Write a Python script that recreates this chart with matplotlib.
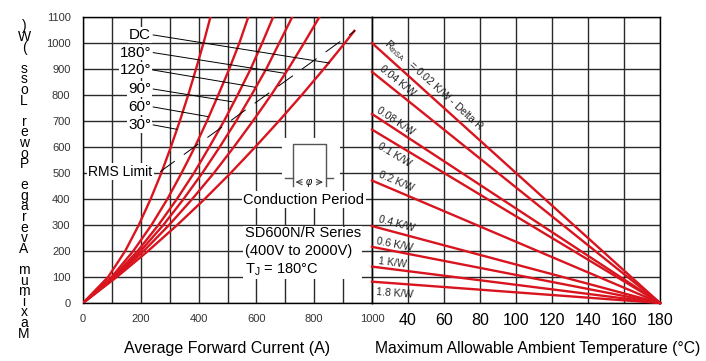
import math
import matplotlib.pyplot as plt
from matplotlib.patches import Rectangle

plt.rcParams['font.family'] = ['Liberation Sans', 'DejaVu Sans']
plt.rcParams['lines.scale_dashes'] = False
plt.rcParams['mathtext.fontset'] = 'custom'
plt.rcParams['mathtext.rm'] = 'Liberation Sans'

red = '#d8141f'
gridc = '#2a2a2a'

# left chart: average current (A) at each power step (W), per conduction angle
power = [0, 100, 200, 300, 400, 500, 600, 700, 800, 900, 1000, 1100]
current_30 = [0, 87, 146, 193, 234, 271, 304, 335, 364, 391, 417, 441]
current_60 = [0, 99, 174, 237, 292, 341, 387, 429, 468, 506, 541, 572]
current_90 = [0, 105, 189, 261, 325, 384, 437, 488, 535, 580, 620, 658]
current_120 = [0, 109, 199, 278, 348, 413, 473, 530, 583, 634, 679, 724]
current_180 = [0, 112, 210, 298, 378, 453, 522, 588, 651, 710, 765, 818]
power_dc = [0, 100, 200, 300, 400, 500, 600, 700, 800, 900, 1000, 1047]
current_dc = [0, 117, 225, 326, 421, 511, 596, 678, 757, 833, 906, 939]

angle_names = ['DC', '180°', '120°', '90°', '60°', '30°']
angle_label_p = [1031, 963, 896, 823, 754, 685]
leader_i = [852, 695, 595, 516, 432, 325]
leader_p = [923, 884, 830, 774, 717, 668]

rms_current = [267, 941]
rms_power = [505, 1047]

# right chart: thermal resistance lines from 20 °C down to 180 °C
rth = ['0.02', '0.04', '0.08', '0.1', '0.2', '0.4', '0.6', '1', '1.8']
power_at_20 = [1000, 889, 727, 667, 471, 296, 216, 140, 82]
temp_ends = [20, 180]
rth_label_t = [54.4, 33.9, 32.8, 32.5, 33.3, 33.9, 32.8, 31.4, 32.8]
rth_label_p = [838, 854, 700, 569, 469, 304, 224, 154, 38]

fig = plt.figure(figsize=(7.06, 3.61), dpi=100)
ax1 = fig.add_axes([83/706, 1-303/361, 289/706, 286/361])
ax2 = fig.add_axes([372/706, 1-303/361, 288/706, 286/361])

for ax in (ax1, ax2):
    ax.set_ylim(0, 1100)
    ax.set_yticks(range(0, 1101, 100))
    ax.set_axisbelow(True)
    ax.grid(True, color=gridc, lw=1.0)
    ax.tick_params(length=0)
    for s in ax.spines.values():
        s.set_color('black')
        s.set_linewidth(1.0)

ax1.set_xlim(0, 1000)
ax1.set_xticks(range(0, 1001, 100))
ax1.set_xticklabels([str(v) if v % 200 == 0 else '' for v in range(0, 1001, 100)], fontsize=8, color='#333')
ax1.set_yticklabels([str(v) for v in range(0, 1101, 100)], fontsize=8, color='#333')
ax1.tick_params(axis='y', pad=9)
ax1.tick_params(axis='x', pad=8)

ax2.set_xlim(20, 180)
ax2.set_xticks(range(20, 181, 20))
ax2.set_xticklabels([''] + [str(v) for v in range(40, 181, 20)], fontsize=11.5)
ax2.set_yticklabels([])
ax2.tick_params(axis='x', pad=7)

curves = [(current_30, power), (current_60, power), (current_90, power),
          (current_120, power), (current_180, power), (current_dc, power_dc)]
for cx, cy in curves:
    ax1.plot(cx, cy, color=red, lw=1.7, zorder=3)

ax1.plot(rms_current, rms_power, color='black', lw=0.7, dashes=(13, 8), zorder=4)
ax1.text(240, 505, 'RMS Limit', ha='right', va='center', fontsize=10,
         bbox=dict(facecolor='white', edgecolor='none', pad=1), zorder=5)

for name, ly, lx, lp in zip(angle_names, angle_label_p, leader_i, leader_p):
    ax1.plot([243, lx], [ly, lp], color='black', lw=0.7, zorder=4)
    ax1.text(236, ly, name, ha='right', va='center', fontsize=11,
             bbox=dict(facecolor='white', edgecolor='none', pad=0.5), zorder=5)

# conduction period symbol
ax1.add_patch(Rectangle((688, 427), 202, 208, facecolor='white', edgecolor='none', zorder=1))
ax1.plot([698, 726, 726, 840, 840, 865], [482, 482, 612, 612, 482, 482], color='#555', lw=1.0, zorder=3)
ax1.plot([726, 726], [482, 450], color='#555', lw=1.0, zorder=3)
ax1.plot([840, 840], [482, 450], color='#555', lw=1.0, zorder=3)
ax1.annotate('', xy=(726, 465), xytext=(768, 465),
             arrowprops=dict(arrowstyle='->', lw=0.7, color='#333'), zorder=3)
ax1.annotate('', xy=(840, 465), xytext=(798, 465),
             arrowprops=dict(arrowstyle='->', lw=0.7, color='#333'), zorder=3)
ax1.text(783, 465, 'φ', ha='center', va='center', fontsize=7, style='italic', zorder=3)
ax1.text(764, 397, 'Conduction Period', ha='center', va='center', fontsize=10.5,
         bbox=dict(facecolor='white', edgecolor='none', pad=1), zorder=5)
ax1.text(560, 196, 'SD600N/R Series\n(400V to 2000V)\nT$_\\mathrm{J}$ = 180°C', ha='left', va='center',
         fontsize=10.5, linespacing=1.3,
         bbox=dict(facecolor='white', edgecolor='none', pad=1), zorder=5)

for name, p0, tx, tp in zip(rth, power_at_20, rth_label_t, rth_label_p):
    ax2.plot(temp_ends, [p0, 0], color=red, lw=1.7, zorder=3, clip_on=False)
    a = ax2.transData.transform([(20, p0), (180, 0)])
    ang = math.degrees(math.atan2(a[1][1] - a[0][1], a[1][0] - a[0][0]))
    if name == '0.02':
        txt = 'R$_\\mathrm{thSA}$   = 0.02 K/W - Delta R'
    else:
        txt = name + ' K/W'
    ax2.text(tx, tp, txt, rotation=ang, rotation_mode='anchor', ha='center', va='center',
             fontsize=7.5, color='#222', zorder=4)

fig.text(227/706, 1-348/361, 'Average Forward Current (A)', ha='center', va='center', fontsize=11.5)
fig.text(538/706, 1-348/361, 'Maximum Allowable Ambient Temperature (°C)', ha='center', va='center', fontsize=11.3)

ylab = 'Maximum Average Power Loss (W)'
fig.text(24/706, 1-180/361, '\n'.join(reversed(ylab)), ha='center', va='center',
         fontsize=10, linespacing=0.69)

fig.savefig('out.png', dpi=100)
